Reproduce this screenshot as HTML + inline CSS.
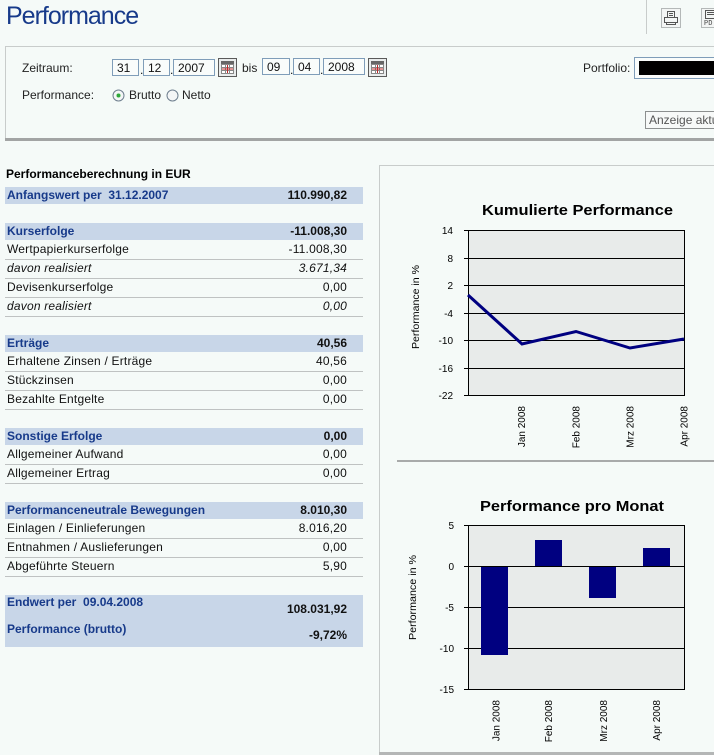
<!DOCTYPE html>
<html><head><meta charset="utf-8">
<style>
html,body{margin:0;padding:0;}
body{width:714px;height:755px;overflow:hidden;position:relative;background:#f5faf8;font-family:"Liberation Sans",Arial,sans-serif;font-size:12px;color:#111;}
.a{position:absolute;white-space:nowrap;}
.t{position:absolute;white-space:nowrap;height:18px;line-height:18px;}
.band{position:absolute;left:5px;width:358px;background:#c8d6e8;}
.ln{position:absolute;left:5px;width:358px;height:1px;background:#bfc2c2;}
.lab{left:7px;letter-spacing:.2px;}
.val{right:367px;text-align:right;letter-spacing:.2px;}
.hb{font-weight:bold;color:#173a8a;letter-spacing:0;}
.vb{font-weight:bold;color:#111;letter-spacing:0;}
.i{font-style:italic;}
.inp{position:absolute;height:17px;border:1px solid #7f9db9;background:#f9fcfb;line-height:17px;padding-left:4px;box-sizing:border-box;font-size:12px;}
</style></head><body>

<!-- header -->
<div class="a" style="left:6px;top:4px;font-size:25px;line-height:25px;color:#173a8a;letter-spacing:-1px;">Performance</div>
<div class="a" style="left:646px;top:0;width:1px;height:34px;background:#c8cccb;"></div>
<svg class="a" style="left:661px;top:8px" width="20" height="20" viewBox="0 0 20 20">
<rect x="0.5" y="0.5" width="19" height="19" fill="#f3f5f4" stroke="#b4b8b8"/>
<rect x="6.5" y="3.5" width="7" height="6" fill="none" stroke="#555"/>
<line x1="8" y1="5.5" x2="12" y2="5.5" stroke="#555"/><line x1="8" y1="7.5" x2="12" y2="7.5" stroke="#555"/>
<rect x="3.5" y="9.5" width="13" height="5" fill="none" stroke="#555"/>
<rect x="5.5" y="14.5" width="9" height="2" fill="none" stroke="#555"/>
</svg>
<svg class="a" style="left:701px;top:8px" width="13" height="20" viewBox="0 0 13 20">
<rect x="0.5" y="0.5" width="19" height="19" fill="#f3f5f4" stroke="#b4b8b8"/>
<rect x="4.5" y="2.5" width="11" height="8" fill="none" stroke="#555"/>
<line x1="6" y1="4.5" x2="14" y2="4.5" stroke="#555"/><line x1="6" y1="6.5" x2="14" y2="6.5" stroke="#555"/>
<text x="3" y="17" font-size="7" font-family="Liberation Mono,monospace" fill="#444">PD</text>
</svg>

<!-- filter box -->
<div class="a" style="left:5px;top:46px;width:709px;height:1px;background:#c8cccb;"></div>
<div class="a" style="left:5px;top:46px;width:1px;height:93px;background:#c8cccb;"></div>
<div class="a" style="left:5px;top:138px;width:709px;height:3px;background:#a2a4a4;"></div>

<div class="t" style="left:22px;top:59px;color:#222;">Zeitraum:</div>
<div class="inp" style="left:112px;top:59px;width:27px;">31</div>
<div class="t" style="left:140px;top:61px;">.</div>
<div class="inp" style="left:143px;top:59px;width:27px;">12</div>
<div class="t" style="left:170px;top:61px;">.</div>
<div class="inp" style="left:173px;top:59px;width:42px;">2007</div>
<svg class="a" style="left:218px;top:58px" width="19" height="19" viewBox="0 0 19 19">
<rect x="0.5" y="0.5" width="18" height="18" fill="#e9ecec" stroke="#5a5a5a"/>
<rect x="3" y="3" width="13" height="3" fill="#666"/>
<rect x="3.5" y="6.5" width="12" height="9" fill="#fff" stroke="#888"/>
<line x1="7.5" y1="7" x2="7.5" y2="15" stroke="#888"/><line x1="11.5" y1="7" x2="11.5" y2="15" stroke="#888"/>
<line x1="4" y1="9.5" x2="15" y2="9.5" stroke="#888"/><line x1="4" y1="12.5" x2="15" y2="12.5" stroke="#888"/>
<line x1="9.5" y1="7" x2="9.5" y2="15" stroke="#c0282a"/><line x1="4" y1="11" x2="15" y2="11" stroke="#c0282a"/>
</svg>
<div class="t" style="left:242px;top:59px;color:#222;">bis</div>
<div class="inp" style="left:262px;top:58px;width:28px;">09</div>
<div class="t" style="left:290px;top:61px;">.</div>
<div class="inp" style="left:293px;top:58px;width:27px;">04</div>
<div class="t" style="left:320px;top:61px;">.</div>
<div class="inp" style="left:323px;top:58px;width:42px;">2008</div>
<svg class="a" style="left:368px;top:58px" width="19" height="19" viewBox="0 0 19 19">
<rect x="0.5" y="0.5" width="18" height="18" fill="#e9ecec" stroke="#5a5a5a"/>
<rect x="3" y="3" width="13" height="3" fill="#666"/>
<rect x="3.5" y="6.5" width="12" height="9" fill="#fff" stroke="#888"/>
<line x1="7.5" y1="7" x2="7.5" y2="15" stroke="#888"/><line x1="11.5" y1="7" x2="11.5" y2="15" stroke="#888"/>
<line x1="4" y1="9.5" x2="15" y2="9.5" stroke="#888"/><line x1="4" y1="12.5" x2="15" y2="12.5" stroke="#888"/>
<line x1="9.5" y1="7" x2="9.5" y2="15" stroke="#c0282a"/><line x1="4" y1="11" x2="15" y2="11" stroke="#c0282a"/>
</svg>

<div class="t" style="left:22px;top:86px;color:#222;">Performance:</div>
<svg class="a" style="left:112px;top:89px" width="13" height="13" viewBox="0 0 13 13">
<circle cx="6.5" cy="6.5" r="5.5" fill="#f4f6f6" stroke="#6f7f8f"/><circle cx="6.5" cy="6.5" r="2" fill="#2fa83a"/></svg>
<div class="t" style="left:129px;top:86px;color:#222;">Brutto</div>
<svg class="a" style="left:166px;top:89px" width="13" height="13" viewBox="0 0 13 13">
<circle cx="6.5" cy="6.5" r="5.5" fill="#f4f6f6" stroke="#6f7f8f"/></svg>
<div class="t" style="left:182px;top:86px;color:#222;">Netto</div>

<div class="t" style="left:583px;top:59px;color:#222;">Portfolio:</div>
<div class="a" style="left:634px;top:57px;width:80px;height:22px;box-sizing:border-box;border:1px solid #7f9db9;border-right:none;background:#f9fcfb;"></div>
<div class="a" style="left:639px;top:61px;width:75px;height:14px;background:#000;"></div>
<div class="a" style="left:645px;top:111px;width:69px;height:18px;box-sizing:border-box;border:1px solid #8c8f8f;border-right:none;background:#f7f9f8;overflow:hidden;">
<div style="position:absolute;left:3px;top:0;height:16px;line-height:16px;font-size:12px;color:#555;white-space:nowrap;">Anzeige aktualisieren</div></div>

<!-- table -->
<div class="t" style="left:6px;top:165px;font-weight:bold;color:#000;">Performanceberechnung in EUR</div>

<div class="band" style="top:187px;height:17px;"></div>
<div class="t lab hb" style="top:186px;">Anfangswert per&nbsp; 31.12.2007</div>
<div class="t val vb" style="top:186px;">110.990,82</div>

<div class="band" style="top:223px;height:17px;"></div>
<div class="t lab hb" style="top:222px;">Kurserfolge</div>
<div class="t val vb" style="top:222px;">-11.008,30</div>
<div class="t lab" style="top:240px;">Wertpapierkurserfolge</div><div class="t val" style="top:240px;">-11.008,30</div><div class="ln" style="top:259px"></div>
<div class="t lab i" style="top:259px;">davon realisiert</div><div class="t val i" style="top:259px;">3.671,34</div><div class="ln" style="top:278px"></div>
<div class="t lab" style="top:278px;">Devisenkurserfolge</div><div class="t val" style="top:278px;">0,00</div><div class="ln" style="top:297px"></div>
<div class="t lab i" style="top:297px;">davon realisiert</div><div class="t val i" style="top:297px;">0,00</div><div class="ln" style="top:316px"></div>

<div class="band" style="top:335px;height:17px;"></div>
<div class="t lab hb" style="top:334px;">Erträge</div>
<div class="t val vb" style="top:334px;">40,56</div>
<div class="t lab" style="top:352px;">Erhaltene Zinsen / Erträge</div><div class="t val" style="top:352px;">40,56</div><div class="ln" style="top:371px"></div>
<div class="t lab" style="top:371px;">Stückzinsen</div><div class="t val" style="top:371px;">0,00</div><div class="ln" style="top:390px"></div>
<div class="t lab" style="top:390px;">Bezahlte Entgelte</div><div class="t val" style="top:390px;">0,00</div><div class="ln" style="top:409px"></div>

<div class="band" style="top:428px;height:17px;"></div>
<div class="t lab hb" style="top:427px;">Sonstige Erfolge</div>
<div class="t val vb" style="top:427px;">0,00</div>
<div class="t lab" style="top:445px;">Allgemeiner Aufwand</div><div class="t val" style="top:445px;">0,00</div><div class="ln" style="top:464px"></div>
<div class="t lab" style="top:464px;">Allgemeiner Ertrag</div><div class="t val" style="top:464px;">0,00</div><div class="ln" style="top:483px"></div>

<div class="band" style="top:502px;height:17px;"></div>
<div class="t lab hb" style="top:501px;">Performanceneutrale Bewegungen</div>
<div class="t val vb" style="top:501px;">8.010,30</div>
<div class="t lab" style="top:519px;">Einlagen / Einlieferungen</div><div class="t val" style="top:519px;">8.016,20</div><div class="ln" style="top:538px"></div>
<div class="t lab" style="top:538px;">Entnahmen / Auslieferungen</div><div class="t val" style="top:538px;">0,00</div><div class="ln" style="top:557px"></div>
<div class="t lab" style="top:557px;">Abgeführte Steuern</div><div class="t val" style="top:557px;">5,90</div><div class="ln" style="top:576px"></div>

<div class="band" style="top:595px;height:52px;"></div>
<div class="t lab hb" style="top:593px;">Endwert per&nbsp; 09.04.2008</div>
<div class="t val vb" style="top:600px;">108.031,92</div>
<div class="t lab hb" style="top:620px;">Performance (brutto)</div>
<div class="t val vb" style="top:626px;">-9,72%</div>

<!-- chart panel -->
<div class="a" style="left:379px;top:165px;width:335px;height:1px;background:#c8cccb;"></div>
<div class="a" style="left:379px;top:165px;width:1px;height:590px;background:#c8cccb;"></div>
<div class="a" style="left:397px;top:460px;width:317px;height:2px;background:#a8aaaa;"></div>
<div class="a" style="left:379px;top:752px;width:335px;height:3px;background:#b4b6b6;"></div>

<svg class="a" style="left:0;top:0" width="714" height="755" viewBox="0 0 714 755" font-family="Liberation Sans,Arial,sans-serif">
<!-- Chart 1 -->
<text x="482" y="215" font-size="15" font-weight="bold" textLength="191" lengthAdjust="spacingAndGlyphs" fill="#000">Kumulierte Performance</text>
<rect x="468" y="230" width="216" height="165" fill="#e8ebea"/>
<g stroke="#000" stroke-width="1" shape-rendering="crispEdges">
<line x1="464" y1="230.5" x2="684" y2="230.5"/>
<line x1="464" y1="258.5" x2="684" y2="258.5"/>
<line x1="464" y1="285.5" x2="684" y2="285.5"/>
<line x1="464" y1="313.5" x2="684" y2="313.5"/>
<line x1="464" y1="340.5" x2="684" y2="340.5"/>
<line x1="464" y1="368.5" x2="684" y2="368.5"/>
<line x1="464" y1="395.5" x2="684" y2="395.5"/>
<line x1="468.5" y1="230" x2="468.5" y2="396"/>
<line x1="684.5" y1="230" x2="684.5" y2="396"/>
</g>
<g font-size="10" fill="#000" text-anchor="end">
<text x="453" y="234">14</text>
<text x="453" y="262">8</text>
<text x="453" y="289">2</text>
<text x="453" y="317">-4</text>
<text x="453" y="344">-10</text>
<text x="453" y="372">-16</text>
<text x="453" y="399">-22</text>
</g>
<polyline points="468,295 522,344 576,331.5 630,348 684,339" fill="none" stroke="#000080" stroke-width="3" stroke-linejoin="miter"/>
<text transform="translate(419,307) rotate(-90)" font-size="10" text-anchor="middle" textLength="84" lengthAdjust="spacingAndGlyphs" fill="#000">Performance in %</text>
<g font-size="10" fill="#000" text-anchor="end">
<text transform="translate(525,406) rotate(-90)">Jan 2008</text>
<text transform="translate(579.5,406) rotate(-90)">Feb 2008</text>
<text transform="translate(633.5,406) rotate(-90)">Mrz 2008</text>
<text transform="translate(687.5,406) rotate(-90)">Apr 2008</text>
</g>

<!-- Chart 2 -->
<text x="480" y="511" font-size="15" font-weight="bold" textLength="184" lengthAdjust="spacingAndGlyphs" fill="#000">Performance pro Monat</text>
<rect x="468" y="525" width="216" height="164" fill="#e8ebea"/>
<g stroke="#000" stroke-width="1" shape-rendering="crispEdges">
<line x1="464" y1="607.5" x2="684" y2="607.5"/>
<line x1="464" y1="648.5" x2="684" y2="648.5"/>
</g>
<g fill="#000080">
<rect x="481" y="566" width="27" height="89"/>
<rect x="535" y="540" width="27" height="26"/>
<rect x="589" y="566" width="27" height="32"/>
<rect x="643" y="548" width="27" height="18"/>
</g>
<g stroke="#000" stroke-width="1" shape-rendering="crispEdges">
<line x1="464" y1="525.5" x2="684" y2="525.5"/>
<line x1="464" y1="566.5" x2="684" y2="566.5"/>
<line x1="464" y1="689.5" x2="684" y2="689.5"/>
<line x1="468.5" y1="525" x2="468.5" y2="690"/>
<line x1="684.5" y1="525" x2="684.5" y2="690"/>
</g>
<g font-size="10" fill="#000" text-anchor="end">
<text x="454" y="529">5</text>
<text x="454" y="570">0</text>
<text x="454" y="611">-5</text>
<text x="454" y="652">-10</text>
<text x="454" y="693">-15</text>
</g>
<text transform="translate(416,597.5) rotate(-90)" font-size="10" text-anchor="middle" textLength="85" lengthAdjust="spacingAndGlyphs" fill="#000">Performance in %</text>
<g font-size="10" fill="#000" text-anchor="end">
<text transform="translate(499.5,700) rotate(-90)">Jan 2008</text>
<text transform="translate(552,700) rotate(-90)">Feb 2008</text>
<text transform="translate(607,700) rotate(-90)">Mrz 2008</text>
<text transform="translate(660,700) rotate(-90)">Apr 2008</text>
</g>
</svg>
</body></html>
